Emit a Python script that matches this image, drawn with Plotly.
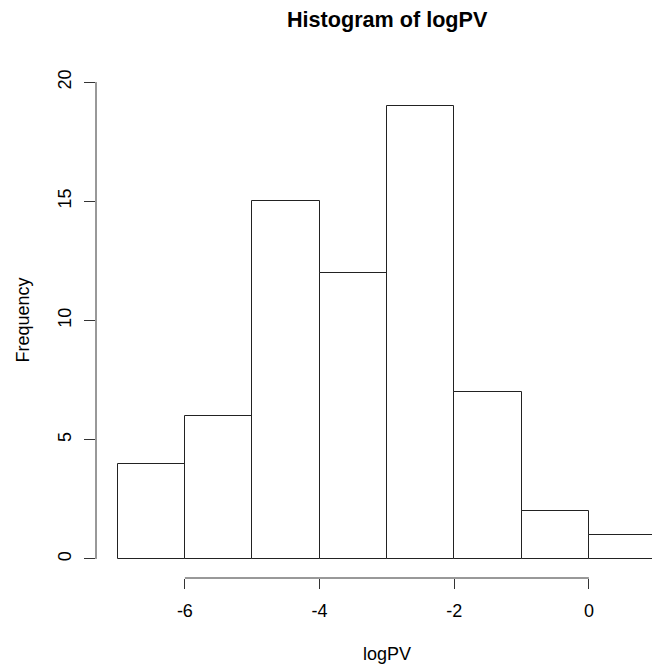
import plotly.graph_objects as go

# Histogram of logPV: bin edges and frequencies
breaks = [-7, -6, -5, -4, -3, -2, -1, 0, 1]
counts = [4, 6, 15, 12, 19, 7, 2, 1]
x_ticks = [-6, -4, -2, 0]
y_ticks = [0, 5, 10, 15, 20]

mids = [(a + b) / 2 for a, b in zip(breaks[:-1], breaks[1:])]
widths = [b - a for a, b in zip(breaks[:-1], breaks[1:])]

FONT = "Liberation Sans, Arial, sans-serif"
W, H = 652, 668
ML, MR, MT, MB = 96, 0, 63, 90

fig = go.Figure(
    go.Bar(
        x=mids,
        y=counts,
        width=widths,
        marker=dict(color="white", line=dict(color="#222222", width=1)),
        hoverinfo="x+y",
    )
)

# axis lines span only the first to last tick, base-graphics style
fig.add_shape(type="line", xref="x", yref="paper",
              x0=min(x_ticks), x1=max(x_ticks), y0=0, y1=0,
              line=dict(color="#333333", width=1))
fig.add_shape(type="line", xref="paper", yref="y",
              x0=0, x1=0, y0=min(y_ticks), y1=max(y_ticks),
              line=dict(color="#333333", width=1))

plot_w = W - ML - MR
plot_h = H - MT - MB
cx = (387 - ML) / plot_w

fig.add_annotation(text="<b>Histogram of logPV</b>", xref="paper", yref="paper",
                   x=cx, y=1 + (MT - 20) / plot_h, xanchor="center", yanchor="middle",
                   showarrow=False, font=dict(family=FONT, size=21.6, color="black"))
fig.add_annotation(text="logPV", xref="paper", yref="paper",
                   x=cx, y=-(654 - (H - MB)) / plot_h, xanchor="center", yanchor="middle",
                   showarrow=False, font=dict(family=FONT, size=18, color="black"))
fig.add_annotation(text="Frequency", xref="paper", yref="paper",
                   x=(22 - ML) / plot_w, y=0.5, xanchor="center", yanchor="middle",
                   textangle=-90, showarrow=False,
                   font=dict(family=FONT, size=18, color="black"))

fig.update_xaxes(range=[-7.32, 0.9375], tickvals=x_ticks,
                 ticktext=[str(v) for v in x_ticks], ticks="outside",
                 ticklen=10, tickwidth=1, tickcolor="#333333",
                 showline=False, showgrid=False, zeroline=False,
                 ticklabelstandoff=6,
                 tickfont=dict(family=FONT, size=18, color="black"))
fig.update_yaxes(range=[-0.8, 20.8], tickvals=y_ticks,
                 ticktext=[str(v) for v in y_ticks], ticks="outside",
                 ticklen=11, tickwidth=1, tickcolor="#333333",
                 showline=False, showgrid=False, zeroline=False,
                 tickangle=-90, ticklabelstandoff=6,
                 tickfont=dict(family=FONT, size=18, color="black"))

fig.update_layout(
    width=W, height=H,
    margin=dict(l=ML, r=MR, t=MT, b=MB, pad=0),
    plot_bgcolor="white", paper_bgcolor="white",
    showlegend=False, bargap=0,
)

fig.write_html("out.html")
